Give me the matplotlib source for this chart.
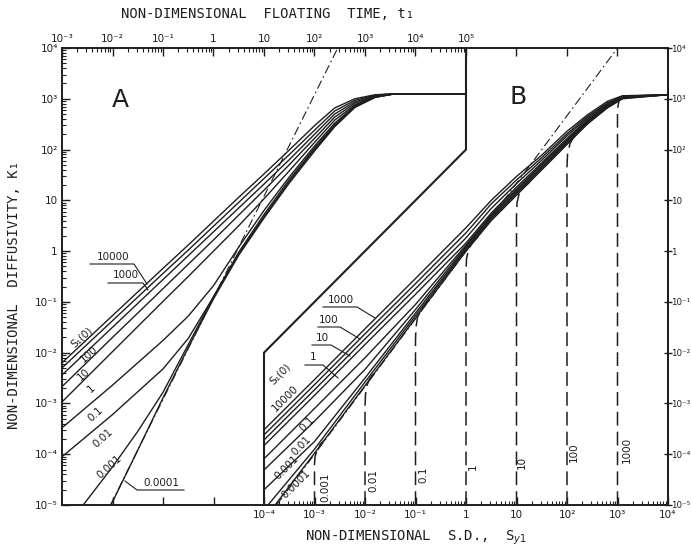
import numpy as np
import matplotlib
matplotlib.use("Agg")
import matplotlib.pyplot as plt
from matplotlib.ticker import NullLocator

plt.rcParams['font.family'] = ['DejaVu Sans']

INK = '#1e1e1e'
MONO = 'DejaVu Sans Mono'

# --- Panel A: K1 against floating time t1 (log10 values) ---
A_T = [-3, -2, -1, -0.5, 0, 0.5, 1, 1.5, 2, 2.4, 2.8, 3.2, 3.6, 5]
a_10000 = [-2.2, -1.27, -0.34, 0.12, 0.59, 1.06, 1.52, 1.99, 2.47, 2.82, 3.0, 3.08, 3.1, 3.1]
a_1000 = [-2.3, -1.37, -0.44, 0.02, 0.49, 0.96, 1.43, 1.9, 2.38, 2.76, 2.97, 3.07, 3.1, 3.1]
a_100 = [-2.44, -1.5, -0.56, -0.09, 0.38, 0.85, 1.32, 1.8, 2.3, 2.7, 2.94, 3.06, 3.1, 3.1]
a_10 = [-2.67, -1.7, -0.74, -0.26, 0.22, 0.71, 1.2, 1.7, 2.22, 2.64, 2.91, 3.05, 3.1, 3.1]
a_1 = [-2.97, -1.98, -0.99, -0.5, 0.0, 0.5, 1.03, 1.58, 2.14, 2.58, 2.88, 3.04, 3.1, 3.1]
a_01 = [-3.48, -2.64, -1.76, -1.28, -0.68, 0.08, 0.8, 1.46, 2.07, 2.52, 2.86, 3.04, 3.1, 3.1]
a_001 = [-4.05, -3.22, -2.32, -1.72, -0.9, -0.02, 0.72, 1.41, 2.03, 2.49, 2.84, 3.03, 3.1, 3.1]
A_T_0001 = [-2.58, -2, -1.5, -1, -0.5, 0, 0.5, 1, 1.5, 2, 2.4, 2.8, 3.2, 3.6, 5]
a_0001 = [-5, -4.25, -3.55, -2.78, -1.84, -0.9, -0.05, 0.68, 1.37, 2.0, 2.47, 2.84, 3.03, 3.1, 3.1]
A_T_00001 = [-2.03, -1.5, -1, -0.5, 0, 0.5, 1, 1.5, 2, 2.4, 2.8, 3.2, 3.6, 5]
a_00001 = [-5, -3.92, -2.89, -1.9, -0.94, -0.08, 0.65, 1.34, 1.97, 2.45, 2.83, 3.03, 3.1, 3.1]
A_ASYM_T = [-2.04, 2.46]
A_ASYM_K = [-5, 4]

# --- Panel B: K1 against standard deviation S_y1 (log10 values) ---
B_S = [-4, -3, -2, -1, 0, 0.5, 1, 1.5, 2, 2.4, 2.8, 3.1, 4]
b_10000 = [-3.52, -2.53, -1.53, -0.54, 0.46, 1.0, 1.47, 1.89, 2.36, 2.68, 2.95, 3.06, 3.08]
b_1000 = [-3.62, -2.63, -1.63, -0.64, 0.36, 0.93, 1.4, 1.84, 2.31, 2.65, 2.92, 3.05, 3.08]
b_100 = [-3.72, -2.73, -1.73, -0.74, 0.26, 0.84, 1.33, 1.79, 2.27, 2.62, 2.9, 3.05, 3.08]
b_10 = [-3.83, -2.84, -1.84, -0.85, 0.16, 0.75, 1.26, 1.74, 2.22, 2.59, 2.88, 3.04, 3.08]
b_1 = [-4.09, -3.1, -2.1, -1.05, 0.12, 0.72, 1.22, 1.71, 2.19, 2.57, 2.86, 3.03, 3.08]
b_01 = [-4.31, -3.35, -2.33, -1.15, 0.09, 0.69, 1.19, 1.68, 2.17, 2.55, 2.85, 3.02, 3.08]
b_001 = [-4.7, -3.75, -2.5, -1.22, 0.06, 0.66, 1.16, 1.65, 2.14, 2.53, 2.84, 3.02, 3.08]
B_S_0001 = [-3.92, -3, -2, -1, 0, 0.5, 1, 1.5, 2, 2.4, 2.8, 3.1, 4]
b_0001 = [-5, -3.9, -2.58, -1.27, 0.03, 0.63, 1.13, 1.62, 2.12, 2.51, 2.83, 3.01, 3.08]
B_S_00001 = [-3.78, -3, -2, -1, 0, 0.5, 1, 1.5, 2, 2.4, 2.8, 3.1, 4]
b_00001 = [-5, -3.98, -2.65, -1.32, 0.0, 0.6, 1.1, 1.6, 2.1, 2.5, 2.82, 3.0, 3.08]
B_ASYM_S = [-3.75, 3.0]
B_ASYM_K = [-5, 4]

# dashed curves: fixed initial S.D. (log10 S, log10 K)
d_0001_s = [-3, -3, -2.99, -2.95, -2.88, -2.8]
d_0001_k = [-5, -4.2, -4.05, -3.92, -3.8, -3.72]
d_001_s = [-2, -2, -1.99, -1.96, -1.9, -1.78]
d_001_k = [-5, -3.05, -2.82, -2.64, -2.5, -2.36]
d_01_s = [-1, -1, -0.99, -0.96, -0.88, -0.72]
d_01_k = [-5, -1.75, -1.5, -1.3, -1.14, -0.95]
d_1_s = [0, 0, 0.01, 0.05, 0.12, 0.25]
d_1_k = [-5, -0.42, -0.15, 0.03, 0.16, 0.3]
d_10_s = [1, 1, 1.01, 1.05, 1.12, 1.25]
d_10_k = [-5, 0.7, 0.95, 1.12, 1.24, 1.35]
d_100_s = [2, 2, 2.01, 2.06, 2.15, 2.28, 2.42]
d_100_k = [-5, 1.65, 1.9, 2.12, 2.28, 2.41, 2.52]
d_1000_s = [3, 3, 3.03, 3.1]
d_1000_k = [-5, 2.8, 2.97, 3.01]

# boundary between the two panels (S, K)
BOUND_S = [1, 1, 1e-4, 1e-4]
BOUND_K = [1e4, 1e2, 1e-2, 1e-5]

DEC_LABELS = {-5: '10⁻⁵', -4: '10⁻⁴', -3: '10⁻³', -2: '10⁻²', -1: '10⁻¹',
              0: '1', 1: '10', 2: '10²', 3: '10³', 4: '10⁴', 5: '10⁵'}


def logplot(ax, xs, ys, **kw):
    ax.plot(10.0 ** np.asarray(xs), 10.0 ** np.asarray(ys), **kw)


fig = plt.figure(figsize=(6.91, 5.51), dpi=100)
axB = fig.add_axes([62 / 691, 46 / 551, 606 / 691, 457 / 551])
axB.set_xscale('log')
axB.set_yscale('log')
axB.set_xlim(1e-8, 1e4)
axB.set_ylim(1e-5, 1e4)
axA = axB.twiny()
axA.set_xscale('log')
axA.set_xlim(1e-3, 1e9)

for sp in list(axB.spines.values()) + list(axA.spines.values()):
    sp.set_linewidth(1.2)
    sp.set_color(INK)

# --- curves ---
solid = dict(color=INK, lw=1.0, solid_capstyle='butt')
for k in [a_10000, a_1000, a_100, a_10, a_1, a_01, a_001]:
    logplot(axA, A_T, k, **solid)
logplot(axA, A_T_0001, a_0001, **solid)
logplot(axA, A_T_00001, a_00001, **solid)
logplot(axA, A_ASYM_T, A_ASYM_K, color=INK, lw=0.8, dashes=[8, 3, 1.5, 3])

for k in [b_10000, b_1000, b_100, b_10, b_1, b_01, b_001]:
    logplot(axB, B_S, k, **solid)
logplot(axB, B_S_0001, b_0001, **solid)
logplot(axB, B_S_00001, b_00001, **solid)
logplot(axB, B_ASYM_S, B_ASYM_K, color=INK, lw=0.8, dashes=[8, 3, 1.5, 3])
for s, k in [(d_0001_s, d_0001_k), (d_001_s, d_001_k), (d_01_s, d_01_k),
             (d_1_s, d_1_k), (d_10_s, d_10_k), (d_100_s, d_100_k),
             (d_1000_s, d_1000_k)]:
    logplot(axB, s, k, color=INK, lw=1.1, dashes=[9, 4])
axB.plot(BOUND_S, BOUND_K, color=INK, lw=1.5)

# --- ticks ---
axB.set_xticks([1e-7, 1e-6, 1e-5] + [10.0 ** e for e in range(-4, 5)],
               ['', '', ''] + [DEC_LABELS[e] for e in range(-4, 5)])
axB.set_xticks([m * 10.0 ** e for e in range(-4, 4) for m in range(2, 10)], minor=True)
axB.set_yticks([10.0 ** e for e in range(-5, 5)], [DEC_LABELS[e] for e in range(-5, 5)])
axB.set_yticks([m * 10.0 ** e for e in range(-5, 4) for m in range(2, 10)], minor=True)
axB.yaxis.set_minor_formatter(plt.NullFormatter())
axB.xaxis.set_minor_formatter(plt.NullFormatter())
axB.tick_params(which='both', direction='in', colors=INK, labelsize=7.5, right=False, top=False)
axB.tick_params(which='major', length=6, width=1.0)
axB.tick_params(which='minor', length=3, width=0.8)
axB.tick_params(axis='y', pad=3)

axA.set_xticks([10.0 ** e for e in range(-3, 9)],
               [DEC_LABELS[e] for e in range(-3, 6)] + ['', '', ''])
axA.set_xticks([m * 10.0 ** e for e in range(-3, 5) for m in range(2, 10)], minor=True)
axA.xaxis.set_minor_formatter(plt.NullFormatter())
axA.tick_params(axis='x', which='both', direction='in', colors=INK, labelsize=7.5, pad=3)
axA.tick_params(axis='x', which='major', length=6, width=1.0)
axA.tick_params(axis='x', which='minor', length=3, width=0.8)

sec = axB.secondary_yaxis('right')
sec.set_yticks([10.0 ** e for e in range(-5, 5)], [DEC_LABELS[e] for e in range(-5, 5)])
sec.yaxis.set_minor_locator(NullLocator())
sec.tick_params(direction='inout', length=6, width=1.0, colors=INK, labelsize=6.3, pad=-0.5)
sec.spines['right'].set_linewidth(1.2)


# --- annotations (positions in pixels of the 691x551 figure) ---
def px(x, y):
    return ((x - 62) / 606, (505 - y) / 457)


def label(x, y, s, rot=0, size=7.5, **kw):
    axB.text(*px(x, y), s, transform=axB.transAxes, rotation=rot, fontsize=size,
             ha='center', va='center', color=INK, rotation_mode='anchor', **kw)


def leader(points):
    xs, ys = zip(*[px(x, y) for x, y in points])
    axB.plot(xs, ys, color=INK, lw=0.8, transform=axB.transAxes, clip_on=False)


label(120, 100, 'A', size=18)
label(518, 97, 'B', size=18)

# panel A curve labels
label(113, 257, '10000')
leader([(90, 264), (134, 264), (147, 284)])
label(126, 275, '1000')
leader([(108, 283), (143, 283), (148, 290)])
label(82, 337, 'S₁(0)', rot=42)
label(89, 354, '100', rot=42)
label(84, 374, '10', rot=42)
label(91, 389, '1', rot=42)
label(95, 414, '0.1', rot=42)
label(103, 438, '0.01', rot=42)
label(109, 467, '0.001', rot=42)
label(161, 483, '0.0001')
leader([(184, 490), (137, 490), (125, 481)])

# panel B curve labels
label(341, 300, '1000')
leader([(323, 307), (357, 307), (375, 318)])
label(329, 320, '100')
leader([(318, 327), (340, 327), (360, 339)])
label(322, 338, '10')
leader([(312, 345), (331, 345), (350, 356)])
label(313, 357, '1')
leader([(305, 365), (323, 365), (338, 378)])
label(280, 374, 'S₁(0)', rot=45)
label(285, 398, '10000', rot=45)
label(307, 424, '0.1', rot=45)
label(301, 446, '0.01', rot=45)
label(287, 467, '0.001', rot=45)
label(296, 484, '0.0001', rot=45)

# dashed-curve labels
for x, y, s in [(325, 487, '0.001'), (373, 480, '0.01'), (423, 475, '0.1'),
                (473, 467, '1'), (522, 462, '10'), (574, 452, '100'),
                (627, 450, '1000')]:
    label(x, y, s, rot=90)

# axis titles
fig.text(268 / 691, 1 - 14 / 551, 'NON-DIMENSIONAL  FLOATING  TIME, t₁',
         ha='center', va='center', fontsize=10, color=INK, family=MONO)
fig.text(14 / 691, 1 - 295 / 551, 'NON-DIMENSIONAL  DIFFUSIVITY, K₁',
         ha='center', va='center', rotation=90, fontsize=10, color=INK, family=MONO)
fig.text(416 / 691, 1 - 538 / 551, 'NON-DIMENSIONAL  S.D.,  S$_{y1}$',
         ha='center', va='center', fontsize=10, color=INK, family=MONO)

fig.savefig('out.png', dpi=100)
